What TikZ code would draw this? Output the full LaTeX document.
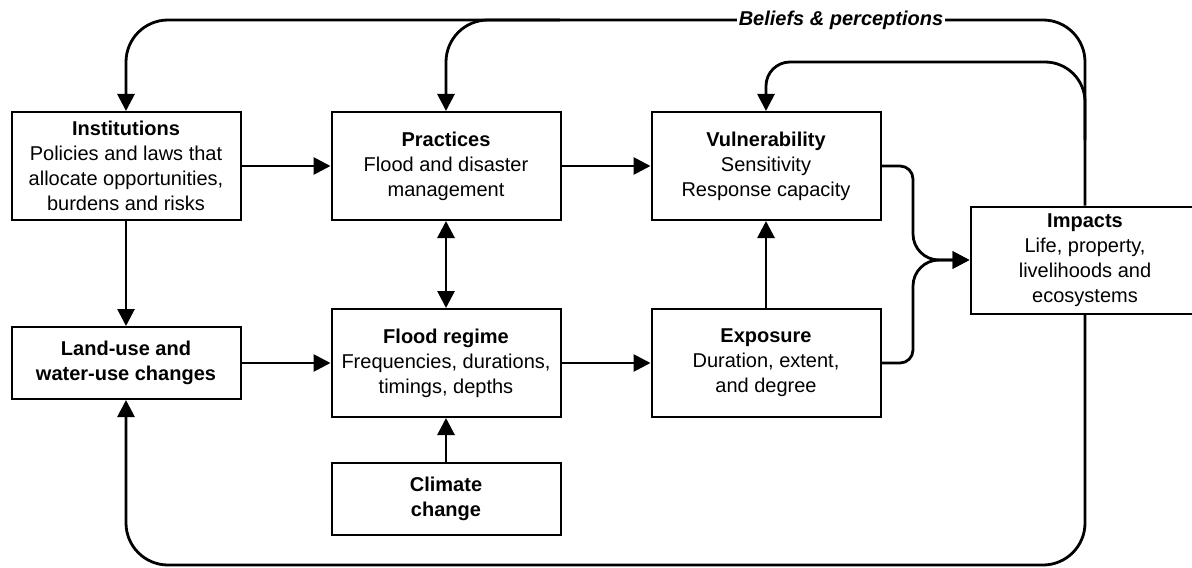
\documentclass[tikz,border=0pt]{standalone}
\usepackage{fontspec}
\setmainfont{Liberation Sans}
\usetikzlibrary{arrows.meta}
\begin{document}
\begin{tikzpicture}[x=0.5pt,y=-0.5pt,>={Triangle[length=8.5pt,width=8.5pt]},
  every node/.style={font=\fontsize{10}{12.5}\selectfont,align=center},
  box/.style={draw,line width=1pt,minimum width=114.5pt,minimum height=54pt,inner sep=2pt},
  lowbox/.style={box,minimum height=36pt},
  link/.style={line width=1.4pt,->},
  twoway/.style={line width=1.4pt,<->}]
\useasboundingbox (0,0) rectangle (1192,567);
\clip (0,0) rectangle (1192,567);
% flood risk boxes
\node[box] (inst) at (126,166) {\textbf{Institutions}\\Policies and laws that\\allocate opportunities,\\burdens and risks};
\node[box] (prac) at (446,166) {\textbf{Practices}\\Flood and disaster\\management};
\node[box] (vul) at (766,166) {\textbf{Vulnerability}\\Sensitivity\\Response capacity};
\node[lowbox] (land) at (126,363) {\textbf{Land-use and}\\\textbf{water-use changes}};
\node[box] (flood) at (446,363) {\textbf{Flood regime}\\Frequencies, durations,\\timings, depths};
\node[box] (expo) at (766,363) {\textbf{Exposure}\\Duration, extent,\\and degree};
\node[lowbox] (clim) at (446,499) {\textbf{Climate}\\\textbf{change}};
\node[box,minimum height=53.5pt] (imp) at (1085,260) {\textbf{Impacts}\\Life, property,\\livelihoods and\\ecosystems};
\draw[link] (inst) -- (prac);
\draw[link] (prac) -- (vul);
\draw[link] (inst) -- (land);
\draw[twoway] (prac) -- (flood);
\draw[link] (land) -- (flood);
\draw[link] (flood) -- (expo);
\draw[link] (expo) -- (vul);
\draw[link] (clim) -- (flood);
\draw[link] (vul.east) [rounded corners=6.5pt] -- (913,166) [rounded corners=13pt] -- (913,260) -- (imp.west);
\draw[link] (expo.east) [rounded corners=6.5pt] -- (913,363) [rounded corners=13pt] -- (913,260) -- (imp.west);
% feedback loops
\coordinate (tp) at (560,20);
\coordinate (rj) at (1085,140);
\draw[link] (imp.north) [rounded corners=21pt] -- (1085,20) -- (126,20) -- (inst.north);
\draw[link] (tp) [rounded corners=21pt] -- (446,20) -- (prac.north);
\draw[link] (rj) [rounded corners=20pt] -- (1085,62) [rounded corners=12pt] -- (766,62) -- (vul.north);
\draw[link] (imp.south) [rounded corners=21pt] -- (1085,565) -- (126,565) -- (land.south);
\node[fill=white,inner sep=1pt,font=\fontsize{10}{12.5}\selectfont\bfseries\itshape] (bel) at (841,20) {Beliefs \& perceptions};
\end{tikzpicture}
\end{document}
